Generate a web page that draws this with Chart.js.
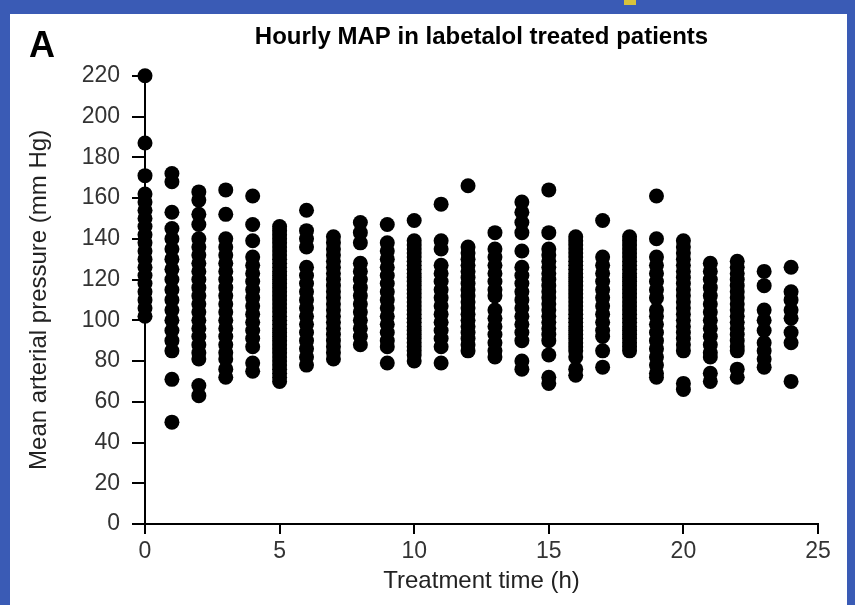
<!DOCTYPE html>
<html>
<head>
<meta charset="utf-8">
<script src="https://cdn.jsdelivr.net/npm/chart.js@4.4.1/dist/chart.umd.min.js"></script>
<style>
  html, body { margin: 0; padding: 0; background: #3a5bb5; overflow: hidden; }
  canvas { display: block; }
</style>
</head>
<body>
<canvas id="chart-map" width="855" height="605"></canvas>
<script>
// treatment hour for each column
const hours = [0, 1, 2, 3, 4, 5, 6, 7, 8, 9, 10, 11, 12, 13, 14, 15, 16, 17, 18, 19, 20, 21, 22, 23, 24];

// MAP readings (mm Hg) at each hour
const mapValues = [
    [220, 187, 171, 162, 158, 154, 150, 146, 142, 138, 134, 130, 126, 122, 118, 114, 110, 106, 102],
    [172, 168, 153, 145, 140, 135, 130, 125, 120, 115, 110, 105, 100, 95, 90, 85, 71, 50],
    [163, 159, 152, 147, 140, 136, 132, 128, 124, 120, 116, 112, 108, 104, 100, 96, 92, 88, 84, 81, 68, 63],
    [164, 152, 140, 136, 132, 128, 124, 120, 116, 112, 108, 104, 100, 96, 92, 88, 84, 81, 76, 72],
    [161, 147, 139, 131, 127, 123, 119, 115, 111, 107, 103, 99, 95, 91, 87, 79, 75],
    [146, 144, 142, 140, 138, 136, 134, 132, 130, 128, 126, 124, 122, 120, 118, 116, 114, 112, 110, 108, 106, 104,
     102, 100, 98, 96, 94, 92, 90, 88, 86, 84, 82, 80, 78, 76, 74, 72, 70],
    [154, 144, 140, 136, 126, 122, 118, 114, 110, 106, 102, 98, 94, 90, 86, 82, 78],
    [141, 138, 135, 132, 129, 126, 123, 120, 117, 114, 111, 108, 105, 102, 99, 96, 93, 90, 87, 84, 81],
    [148, 143, 138, 128, 124, 120, 116, 112, 108, 104, 100, 96, 92, 88],
    [147, 138, 134, 130, 126, 122, 118, 114, 110, 106, 102, 98, 94, 90, 87, 79],
    [149, 139, 137, 135, 133, 131, 129, 127, 125, 123, 121, 119, 117, 115, 113, 111, 109, 107, 105, 103, 101, 99,
     97, 95, 93, 91, 89, 87, 85, 83, 80],
    [157, 139, 135, 127, 123, 119, 115, 111, 107, 103, 99, 95, 91, 87, 79],
    [166, 136, 133, 130, 127, 124, 121, 118, 115, 112, 109, 106, 103, 100, 97, 94, 91, 88, 85],
    [143, 135, 131, 127, 123, 119, 115, 112, 105, 101, 97, 93, 89, 85, 82],
    [158, 153, 148, 143, 134, 126, 122, 118, 114, 110, 106, 102, 98, 94, 90, 80, 76],
    [164, 143, 135, 132, 129, 126, 123, 120, 117, 114, 111, 108, 105, 102, 99, 96, 93, 90, 83, 72, 69],
    [141, 139, 137, 135, 133, 131, 129, 127, 125, 123, 121, 119, 117, 115, 113, 111, 109, 107, 105, 103, 101, 99,
     97, 95, 93, 91, 89, 87, 85, 82, 76, 73],
    [149, 131, 127, 123, 119, 115, 111, 107, 103, 99, 95, 92, 85, 77],
    [141, 139, 137, 135, 133, 131, 129, 127, 125, 123, 121, 119, 117, 115, 113, 111, 109, 107, 105, 103, 101, 99,
     97, 95, 93, 91, 89, 87, 85],
    [161, 140, 131, 127, 123, 119, 115, 111, 105, 102, 98, 94, 90, 86, 82, 78, 74, 72],
    [139, 136, 133, 130, 127, 124, 121, 118, 115, 112, 109, 106, 103, 100, 97, 94, 91, 88, 85, 69, 66],
    [128, 124, 120, 116, 112, 108, 104, 100, 96, 92, 88, 84, 82, 74, 70],
    [129, 126, 123, 120, 117, 114, 111, 108, 105, 102, 99, 96, 93, 90, 87, 85, 76, 72],
    [124, 117, 105, 100, 95, 89, 85, 81, 77],
    [126, 114, 110, 105, 101, 94, 89, 70]
];

const xTicks = [0, 5, 10, 15, 20, 25];
const yTicks = [0, 20, 40, 60, 80, 100, 120, 140, 160, 180, 200, 220];

let points = [];
hours.forEach((h, i) => {
    mapValues[i].forEach(v => points.push({ x: h, y: v }));
});

// blue frame round the white panel, plus the panel letter
const framePlugin = {
    id: 'frame',
    beforeDraw(chart) {
        const ctx = chart.ctx;
        ctx.save();
        ctx.fillStyle = '#3a5bb5';
        ctx.fillRect(0, 0, chart.width, chart.height);
        ctx.fillStyle = '#fff';
        ctx.fillRect(10, 14, chart.width - 18, chart.height - 14);
        ctx.fillStyle = '#d8c23a';
        ctx.fillRect(624, 0, 12, 5);
        ctx.fillStyle = '#000';
        ctx.font = 'bold 36px "Liberation Sans", Arial, sans-serif';
        ctx.textBaseline = 'alphabetic';
        ctx.fillText('A', 29, 57);
        ctx.restore();
    }
};

let ctxMap = document.getElementById('chart-map').getContext('2d');

let mapChart = new Chart(ctxMap, {
    type: 'scatter',
    data: {
        datasets: [{
            data: points,
            backgroundColor: '#000',
            borderColor: '#000',
            pointRadius: 7.5,
            pointHoverRadius: 7.5,
            borderWidth: 0,
            clip: false
        }]
    },
    options: {
        responsive: false,
        animation: false,
        devicePixelRatio: 1,
        layout: { padding: { left: 14, right: 37, top: 14, bottom: 0 } },
        plugins: {
            legend: { display: false },
            tooltip: { enabled: false },
            title: {
                display: true,
                text: 'Hourly MAP in labetalol treated patients',
                color: '#000',
                fullSize: false,
                font: { family: '"Liberation Sans", Arial, sans-serif', size: 24, weight: 'bold', lineHeight: 1.2 },
                padding: { top: 9, bottom: 24 }
            }
        },
        scales: {
            x: {
                type: 'linear',
                min: 0,
                max: 25,
                afterBuildTicks: s => { s.ticks = xTicks.map(v => ({ value: v })); },
                afterFit: s => { s.height = 81; },
                ticks: {
                    color: '#333',
                    padding: 4,
                    font: { family: '"Liberation Sans", Arial, sans-serif', size: 23 }
                },
                grid: { drawOnChartArea: false, drawTicks: true, tickLength: 10, color: '#000', lineWidth: 2 },
                border: { display: true, color: '#000', width: 2 },
                title: {
                    display: true,
                    text: 'Treatment time (h)',
                    color: '#222',
                    font: { family: '"Liberation Sans", Arial, sans-serif', size: 24, lineHeight: 1.2 },
                    padding: { top: 0, bottom: 9 }
                }
            },
            y: {
                type: 'linear',
                min: 0,
                max: 220,
                afterBuildTicks: s => { s.ticks = yTicks.map(v => ({ value: v })); },
                afterFit: s => { s.width = 131; },
                ticks: {
                    color: '#333',
                    padding: 12,
                    font: { family: '"Liberation Sans", Arial, sans-serif', size: 23 }
                },
                grid: { drawOnChartArea: false, drawTicks: true, tickLength: 13, color: '#000', lineWidth: 2 },
                border: { display: true, color: '#000', width: 2 },
                title: {
                    display: true,
                    text: 'Mean arterial pressure (mm Hg)',
                    color: '#222',
                    font: { family: '"Liberation Sans", Arial, sans-serif', size: 24, lineHeight: 1.2 },
                    padding: { top: 11, bottom: 0 }
                }
            }
        }
    },
    plugins: [framePlugin]
});
</script>
</body>
</html>
